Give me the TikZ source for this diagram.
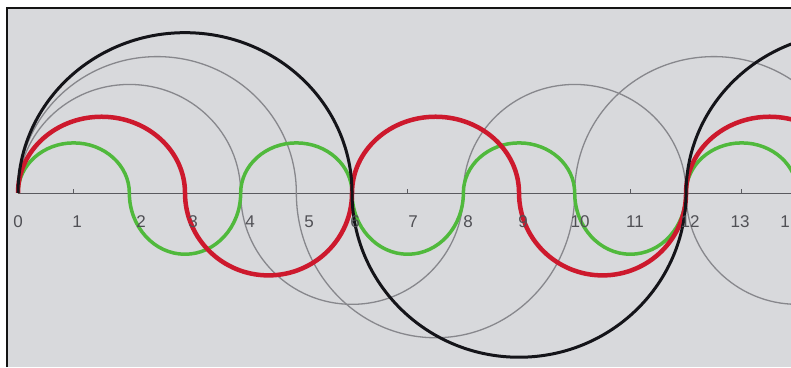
\documentclass[tikz,border=0pt]{standalone}
\usepackage{fontspec}
\setmainfont{Liberation Sans}
\begin{document}
\begin{tikzpicture}[x=1pt,y=1pt,
  paper/.style={fill={rgb,255:red,216;green,217;blue,220}},
  frameline/.style={draw={rgb,255:red,20;green,20;blue,20},line width=2pt},
  axisline/.style={draw={rgb,255:red,90;green,90;blue,95},line width=1pt},
  tickline/.style={draw={rgb,255:red,90;green,90;blue,95},line width=0.9pt},
  pencil/.style={draw={rgb,255:red,135;green,135;blue,140},line width=1.3pt},
  greenc/.style={draw={rgb,255:red,80;green,185;blue,60},line width=3.5pt},
  redc/.style={draw={rgb,255:red,205;green,25;blue,45},line width=4.5pt},
  blackc/.style={draw={rgb,255:red,20;green,20;blue,25},line width=3pt},
  numlab/.style={text={rgb,255:red,80;green,80;blue,85},font=\fontsize{17}{17}\selectfont,inner sep=0pt}]
\def\u{55.67}
\useasboundingbox (0,-174) rectangle (791,193);
\fill[white] (0,-174) rectangle (791,193);
\fill[paper] (7,-174) rectangle (791,185);
\begin{scope}
\clip (7,-174) rectangle (791,185);
% axis
\draw[axisline] (18,0) -- (791,0);
\foreach \i in {1,...,14}{
  \draw[tickline] (18+\i*\u,0) -- (18+\i*\u,4);
}
% gray pencil chains, radius 2 and 2.5
\draw[pencil] (18,0) arc[start angle=180,end angle=0,x radius=2*\u,y radius=1.95*\u]
  arc[start angle=180,end angle=360,radius=2*\u]
  arc[start angle=180,end angle=0,x radius=2*\u,y radius=1.95*\u]
  arc[start angle=180,end angle=360,radius=2*\u];
\draw[pencil] (18,0) arc[start angle=180,end angle=0,x radius=2.5*\u,y radius=2.45*\u]
  arc[start angle=180,end angle=360,x radius=2.5*\u,y radius=2.6*\u]
  arc[start angle=180,end angle=0,x radius=2.5*\u,y radius=2.45*\u]
  arc[start angle=180,end angle=360,radius=2.5*\u];
% green chain, radius 1
\def\gu{0.9*\u}\def\gd{1.1*\u}
\draw[greenc] (18,0) arc[start angle=180,end angle=0,x radius=\u,y radius=\gu]
  arc[start angle=180,end angle=360,x radius=\u,y radius=\gd]
  arc[start angle=180,end angle=0,x radius=\u,y radius=\gu]
  arc[start angle=180,end angle=360,x radius=\u,y radius=\gd]
  arc[start angle=180,end angle=0,x radius=\u,y radius=\gu]
  arc[start angle=180,end angle=360,x radius=\u,y radius=\gd]
  arc[start angle=180,end angle=0,x radius=\u,y radius=\gu]
  arc[start angle=180,end angle=360,x radius=\u,y radius=\gd];
% red chain, radius 1.5
\def\ru{1.37*\u}\def\rd{1.48*\u}
\draw[redc] (18,0) arc[start angle=180,end angle=0,x radius=1.5*\u,y radius=\ru]
  arc[start angle=180,end angle=360,x radius=1.5*\u,y radius=\rd]
  arc[start angle=180,end angle=0,x radius=1.5*\u,y radius=\ru]
  arc[start angle=180,end angle=360,x radius=1.5*\u,y radius=\rd]
  arc[start angle=180,end angle=0,x radius=1.5*\u,y radius=\ru];
% black chain, radius 3
\draw[blackc] (18,0) arc[start angle=180,end angle=0,x radius=3*\u,y radius=2.88*\u]
  arc[start angle=180,end angle=360,x radius=3*\u,y radius=2.95*\u]
  arc[start angle=180,end angle=0,x radius=3*\u,y radius=2.88*\u];
% labels
\node[numlab] (l0) at (18,-29) {0};
\node[numlab] (l1) at (77,-29) {1};
\node[numlab] (l2) at (141,-29) {2};
\node[numlab] (l3) at (193,-29) {3};
\node[numlab] (l4) at (250,-29) {4};
\node[numlab] (l5) at (309,-29) {5};
\node[numlab] (l6) at (355,-29) {6};
\node[numlab] (l7) at (413,-29) {7};
\node[numlab] (l8) at (468,-29) {8};
\node[numlab] (l9) at (523,-29) {9};
\node[numlab] (l10) at (580,-29) {10};
\node[numlab] (l11) at (635,-29) {11};
\node[numlab] (l12) at (690,-29) {12};
\node[numlab] (l13) at (740,-29) {13};
\node[numlab,anchor=east] (l14) at (790,-29) {1};
\end{scope}
\draw[frameline] (7,-174) -- (7,185) -- (791,185);
\end{tikzpicture}
\end{document}
